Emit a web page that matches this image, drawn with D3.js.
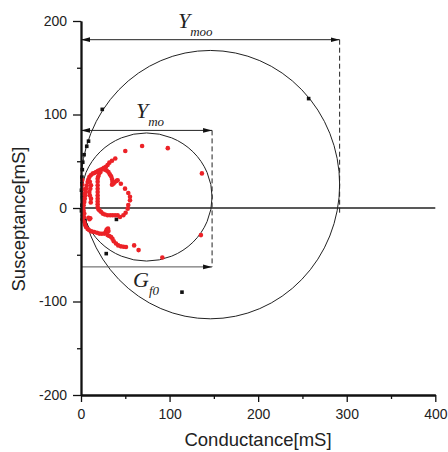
<!DOCTYPE html>
<html>
<head>
<meta charset="utf-8">
<script src="https://cdn.jsdelivr.net/npm/d3@7"></script>
<style>
body { margin: 0; background: #fff; }
svg { display: block; }
.tick text { font-family: Arial, "Liberation Sans", sans-serif; font-size: 14px; fill: #222; }
</style>
</head>
<body>
<svg id="chart" width="448" height="452"></svg>
<script>
// measured points (Conductance G, Susceptance B) in mS
var blackG = [257, 24, 8.5, 6.5, 3.5, 2, 1.5, 1, 1, 0.5, 2, 2, 1, 0.5, 4.5, 5.6, 40, 28.5, 114];
var blackB = [117, 105.5, 71.5, 66, 57, 49, 41, 33, 26, 19, 13.6, 10, 3, -3, -13, -18.5, -12.2, -48.8, -90];

// red trace: outer arc, inner loop, lower arm, loose points
var redG = [136.5, 98, 69, 50, 38.7, 35, 32, 30, 28.2, 26, 24.5, 22.5, 20.7, 19, 17, 15, 13.2, 11, 9.4, 8.3, 7.5, 6.5, 5.6, 5.2, 4.9, 4.3, 3.7, 3, 2.5, 3, 3.7, 3.5, 3.7, 4.5, 5.6, 7.5, 9.4, 12, 15, 18, 20.7, 23.5, 26.3, 28, 30,
	27, 29, 31, 32.5, 34, 35, 35.5, 36.5, 35, 37, 38, 40, 41.4, 45, 49.7, 53.4, 55.3, 55.3, 53.4, 52.7, 50.4, 47.8, 44, 41.4, 38.5, 35.8, 33, 30, 27, 24.5, 22.5, 20.7, 19.5,
	18.8, 18.8, 18.8, 18.8, 18.8, 18.8, 18.8, 18.8, 18.8, 18.8, 19.5, 20.5, 22,
	10, 11.3, 10.5, 9.4, 10, 11.3, 11,
	29, 30.5, 31, 30, 32, 34, 35.5, 37, 39.5, 42, 45, 48, 50.8, 60, 65, 91.8, 135.4,
	8.5, 9.5, 10.5, 1.5, 1.5, 2, 2, 2.5, 2.5, 2, 2, 1.5];
var redB = [37, 64, 66.3, 61, 53, 50.5, 48.5, 46, 44, 43, 42, 41, 40.3, 39.5, 38.5, 37.5, 36.8, 35, 33.2, 30.5, 27.8, 24, 20.7, 17, 13.6, 10, 6.4, 3, 0, -3, -6, -10, -15, -18, -20.3, -22.5, -23.8, -25, -25.7, -26.5, -27.4, -27.6, -27.4, -25.5, -24,
	41, 40, 38.5, 36, 34, 31, 28, 26, 25, 27, 27.5, 29, 29.6, 26, 20.7, 16, 12, 8.2, 3.2, -0.7, -5, -7.8, -9.6, -7.8, -7.8, -7.8, -7.8, -7.8, -7, -6, -4, -2.5, -1,
	1, 4, 7, 10, 13.5, 17, 20.5, 24.3, 28, 31.4, 34, 36.5, 38.5,
	28, 24.3, 20.5, 17, 13.5, 10, 6,
	-23, -22, -24.5, -29, -30, -31, -33, -35.5, -38, -40, -41, -41.5, -41.7, -40, -45, -53, -29,
	-10.5, -12, -11, 30, 25, 20, 15, 10, 5, -2, -8, -12];

// circles: centre G, centre B, radius G, radius B
var circleCx = [146, 74];
var circleCy = [25, 11.75];
var circleRx = [146, 74];
var circleRy = [143.5, 68.5];

// dimension arrows: level B, end G
var arrowB = [180, 83, -63];
var arrowG = [292, 148, 148];

var xTicks = [0, 100, 200, 300, 400];
var xMinor = [50, 150, 250, 350];
var yTicks = [-200, -100, 0, 100, 200];
var yMinor = [-150, -50, 50, 150];

var svg = d3.select("#chart");

var x = d3.scaleLinear().domain([0, 400]).range([81, 435.3]);
var y = d3.scaleLinear().domain([-200, 200]).range([395, 21]);

//MARKER
svg.append("defs").append("marker")
.attr("id", "head")
.attr("markerUnits", "userSpaceOnUse")
.attr("markerWidth", 10)
.attr("markerHeight", 6)
.attr("refX", 9)
.attr("refY", 3)
.attr("orient", "auto-start-reverse")
.append("path")
.attr("d", "M0,0.6 L9,3 L0,5.4 Z")
.attr("fill", "#111");

//ZERO LINE
svg.append("line")
.attr("x1", x(0))
.attr("x2", x(400))
.attr("y1", y(0))
.attr("y2", y(0))
.attr("stroke", "#222")
.attr("stroke-width", 1.3);

//CIRCLES
svg.selectAll(".circ").data(d3.range(circleCx.length)).enter()
.append("ellipse")
.attr("cx", function(i) { return x(circleCx[i]); })
.attr("cy", function(i) { return y(circleCy[i]); })
.attr("rx", function(i) { return x(circleRx[i]) - x(0); })
.attr("ry", function(i) { return y(0) - y(circleRy[i]); })
.attr("fill", "none")
.attr("stroke", "#222")
.attr("stroke-width", 1);

//DASHED VERTICALS
svg.append("line")
.attr("x1", x(arrowG[0])).attr("x2", x(arrowG[0]))
.attr("y1", y(arrowB[0])).attr("y2", y(-5))
.attr("stroke", "#222")
.attr("stroke-dasharray", "5,3")
.attr("stroke-width", 1);

svg.append("line")
.attr("x1", x(arrowG[1])).attr("x2", x(arrowG[1]))
.attr("y1", y(arrowB[1])).attr("y2", y(arrowB[2]))
.attr("stroke", "#222")
.attr("stroke-dasharray", "5,3")
.attr("stroke-width", 1);

//ARROWS
svg.selectAll(".arrow").data(d3.range(arrowB.length)).enter()
.append("line")
.attr("x1", x(0))
.attr("x2", function(i) { return x(arrowG[i]); })
.attr("y1", function(i) { return y(arrowB[i]); })
.attr("y2", function(i) { return y(arrowB[i]); })
.attr("stroke", function(i) { return i == 2 ? "#555" : "#222"; })
.attr("stroke-width", 1)
.attr("marker-end", "url(#head)")
.attr("marker-start", function(i) { return i == 2 ? null : "url(#head)"; });

//LABELS
var labels = [["Y", "moo", 109.5, 192], ["Y", "mo", 62, 96], ["G", "f0", 58.7, -84.8]];
labels.forEach(function(l) {
	var t = svg.append("text")
	.attr("x", x(l[2]))
	.attr("y", y(l[3]))
	.attr("font-family", "'Liberation Serif', 'Times New Roman', serif")
	.attr("font-style", "italic")
	.attr("font-size", 22)
	.attr("fill", "#222")
	.text(l[0]);
	t.append("tspan")
	.attr("dy", 8)
	.attr("font-size", 13)
	.text(l[1]);
});

//BLACK POINTS
svg.selectAll(".sq").data(blackG).enter()
.append("rect")
.attr("x", function(d) { return x(d) - 1.8; })
.attr("y", function(d, i) { return y(blackB[i]) - 1.8; })
.attr("width", 3.6)
.attr("height", 3.6)
.attr("fill", "#111");

//RED POINTS
svg.selectAll(".dot").data(redG).enter()
.append("circle")
.attr("cx", function(d) { return x(d); })
.attr("cy", function(d, i) { return y(redB[i]); })
.attr("r", 2.3)
.attr("fill", "#ec2227");

//AXES
var fmt = function(d) { return String(d); };
svg.append("g")
.attr("transform", "translate(0," + y(-200) + ")")
.call(d3.axisBottom(x).tickValues(xTicks).tickSize(7).tickPadding(7.5).tickSizeOuter(0).tickFormat(fmt));
svg.append("g")
.attr("transform", "translate(0," + y(-200) + ")")
.call(d3.axisBottom(x).tickValues(xMinor).tickSize(4).tickFormat("").tickSizeOuter(0));

svg.append("g")
.attr("transform", "translate(" + x(0) + ",0)")
.call(d3.axisLeft(y).tickValues(yTicks).tickSize(8).tickPadding(6).tickSizeOuter(0).tickFormat(fmt));
svg.append("g")
.attr("transform", "translate(" + x(0) + ",0)")
.call(d3.axisLeft(y).tickValues(yMinor).tickSize(4).tickFormat("").tickSizeOuter(0));

svg.selectAll(".domain").attr("stroke", "#111").attr("stroke-width", 1.8);
svg.selectAll(".tick line").attr("stroke", "#111").attr("stroke-width", 1.3);

//AXIS TITLES
svg.append("text")
.attr("x", 258)
.attr("y", 446)
.attr("text-anchor", "middle")
.attr("font-family", "Arial, 'Liberation Sans', sans-serif")
.attr("font-size", 18.5)
.attr("fill", "#222")
.text("Conductance[mS]");

svg.append("text")
.attr("transform", "translate(25,219) rotate(-90)")
.attr("text-anchor", "middle")
.attr("font-family", "Arial, 'Liberation Sans', sans-serif")
.attr("font-size", 18.5)
.attr("fill", "#222")
.text("Susceptance[mS]");
</script>
</body>
</html>
